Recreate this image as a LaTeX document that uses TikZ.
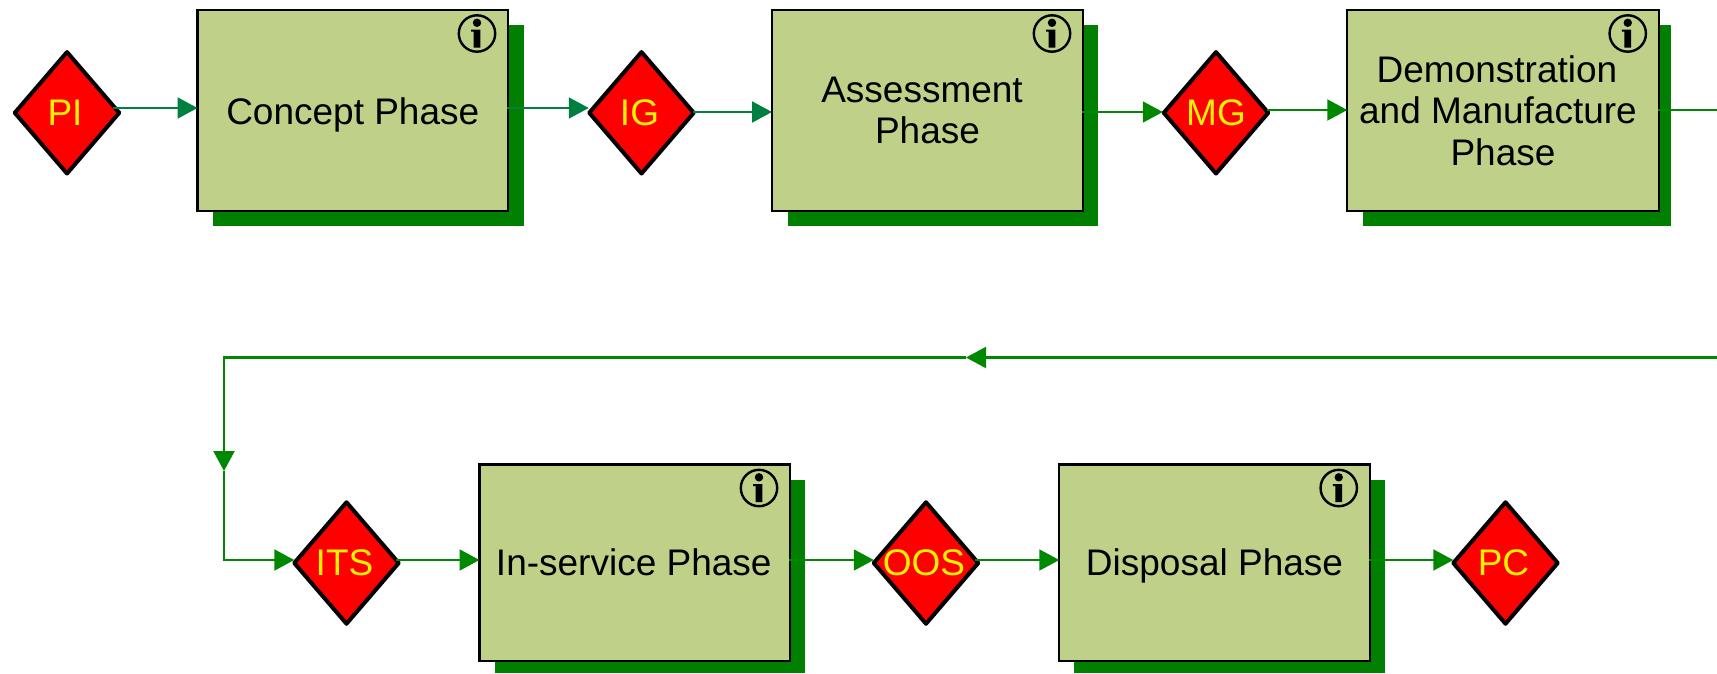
\documentclass[tikz,border=0pt]{standalone}
\usepackage{fontspec}
\setmainfont{Liberation Sans}
\usetikzlibrary{shapes.geometric,arrows.meta}
\definecolor{boxfill}{HTML}{BFD189}
\definecolor{shadowgreen}{HTML}{007F00}
\definecolor{tealflow}{HTML}{008040}
\definecolor{greenflow}{HTML}{008800}
\newcommand{\gatelabel}[1]{\makebox[0pt]{#1\rule{4pt}{0pt}}}
\tikzset{
  x=1pt,y=-1pt,
  phasebox/.style={draw=black,line width=2.4pt,fill=boxfill,rectangle,inner sep=0pt,outer sep=0pt,
    minimum height=201pt,align=center,font=\fontsize{37}{41.5}\selectfont,text=black},
  upperline/.style={text depth=0pt,text height=28.5pt},
  lowerline/.style={text depth=2pt},
  phaseshadow/.style={fill=shadowgreen},
  gate/.style={diamond,draw=black,line width=4pt,line join=round,fill=red,text=yellow,inner sep=0pt,outer sep=0pt,
    minimum width=104.5pt,minimum height=121.5pt,aspect=0.85,font=\fontsize{37}{40}\selectfont},
  flow/.style={draw=greenflow,line width=2.1pt},
  flowarrow/.style={flow,-{Triangle[length=20pt,width=21pt,fill=greenflow]}},
  tealline/.style={draw=tealflow,line width=2.1pt},
  tealarrow/.style={tealline,-{Triangle[length=20pt,width=21pt,fill=tealflow]}},
  infoicon/.pic={
    \draw[black,line width=2.4pt] (0,0) circle[radius=18.2pt];
    \fill[black] (0,-10.7) circle[radius=4.2pt];
    \fill[black] (-6,-4) -- (3.4,-4) -- (3.4,14) -- (-3.4,14) -- (-3.4,-2) -- (-6,-2) -- cycle;
  }
}
\begin{document}
\begin{tikzpicture}
\useasboundingbox (0,0) rectangle (1717,673);
% shadows
\fill[phaseshadow] (213,25) rectangle (523.5,226);
\fill[phaseshadow] (788,25) rectangle (1098,226);
\fill[phaseshadow] (1363,25) rectangle (1671,226);
\fill[phaseshadow] (495,480) rectangle (805,673);
\fill[phaseshadow] (1074,480) rectangle (1385,673);
% phases
\node[phasebox,upperline,minimum width=310.5pt] (concept) at (352.75,110.5) {Concept Phase};
\node[phasebox,minimum width=311pt] (assess) at (927.5,110.5) {Assessment\rule{11pt}{0pt}\\Phase};
\node[phasebox,minimum width=311.5pt] (demo) at (1503,110.5) {Demonstration\rule{12pt}{0pt}\\and Manufacture\rule{10pt}{0pt}\\Phase};
\node[phasebox,lowerline,minimum width=310.5pt,minimum height=196.5pt] (inservice) at (634.75,562.75) {\rule{0pt}{0pt}In-service Phase\rule{2pt}{0pt}};
\node[phasebox,lowerline,minimum width=310.5pt,minimum height=196.5pt] (disposal) at (1214.5,562.75) {Disposal Phase};
% info icons
\pic at ([shift={(-31,23.5)}]concept.north east) {infoicon};
\pic at ([shift={(-31,23.5)}]assess.north east) {infoicon};
\pic at ([shift={(-31,23.5)}]demo.north east) {infoicon};
\pic at ([shift={(-31,23.5)}]inservice.north east) {infoicon};
\pic at ([shift={(-31,23.5)}]disposal.north east) {infoicon};
% gates
\node[gate] (pi) at (67,112.8) {\gatelabel{PI}};
\node[gate] (ig) at (641.5,112.8) {\gatelabel{IG}};
\node[gate] (mg) at (1216,112.8) {\makebox[0pt]{MG}};
\node[gate] (its) at (346.5,563) {\gatelabel{ITS}};
\node[gate] (oos) at (926,563) {\gatelabel{OOS}};
\node[gate] (pc) at (1505.5,563) {\gatelabel{PC}};
% free ends of the loop
\coordinate (exit) at (1717,110);
\coordinate (loopright) at (1717,357.5);
\coordinate (looptip) at (966,357.5);
\coordinate (loopcorner) at (224,357.5);
\coordinate (looparrow) at (224,471);
\coordinate (loopfoot) at (224,560);
% connectors
\draw[tealarrow] ([shift={(-6,-4.8)}]pi.east) -- ([yshift=2.5]concept.west);
\draw[tealarrow] ([shift={(-1,-2.5)}]concept.east) -- ([shift={(-0.5,-4.8)}]ig.west);
\draw[tealarrow] ([shift={(-1,-0.8)}]ig.east) -- ([yshift=-1.5]assess.west);
\draw[flowarrow] ([shift={(-1,1.5)}]assess.east) -- ([shift={(-1,-0.8)}]mg.west);
\draw[flowarrow] ([shift={(-1,-2.8)}]mg.east) -- ([yshift=0.5]demo.west);
\draw[flow] ([shift={(-1,-0.5)}]demo.east) -- (exit);
\draw[flowarrow] (loopright) -- (looptip);
\draw[flowarrow] (looptip) -- (loopcorner) -- (looparrow);
\draw[flowarrow] (looparrow) -- (loopfoot) -- ([shift={(0,-3)}]its.west);
\draw[flowarrow] ([shift={(-3,-3)}]its.east) -- ([yshift=2.75]inservice.west);
\draw[flowarrow] ([shift={(-1,-2.75)}]inservice.east) -- ([shift={(0,-3)}]oos.west);
\draw[flowarrow] ([shift={(-3,-3)}]oos.east) -- ([yshift=2.75]disposal.west);
\draw[flowarrow] ([shift={(-1,-2.75)}]disposal.east) -- ([shift={(0,-3)}]pc.west);
\end{tikzpicture}
\end{document}
